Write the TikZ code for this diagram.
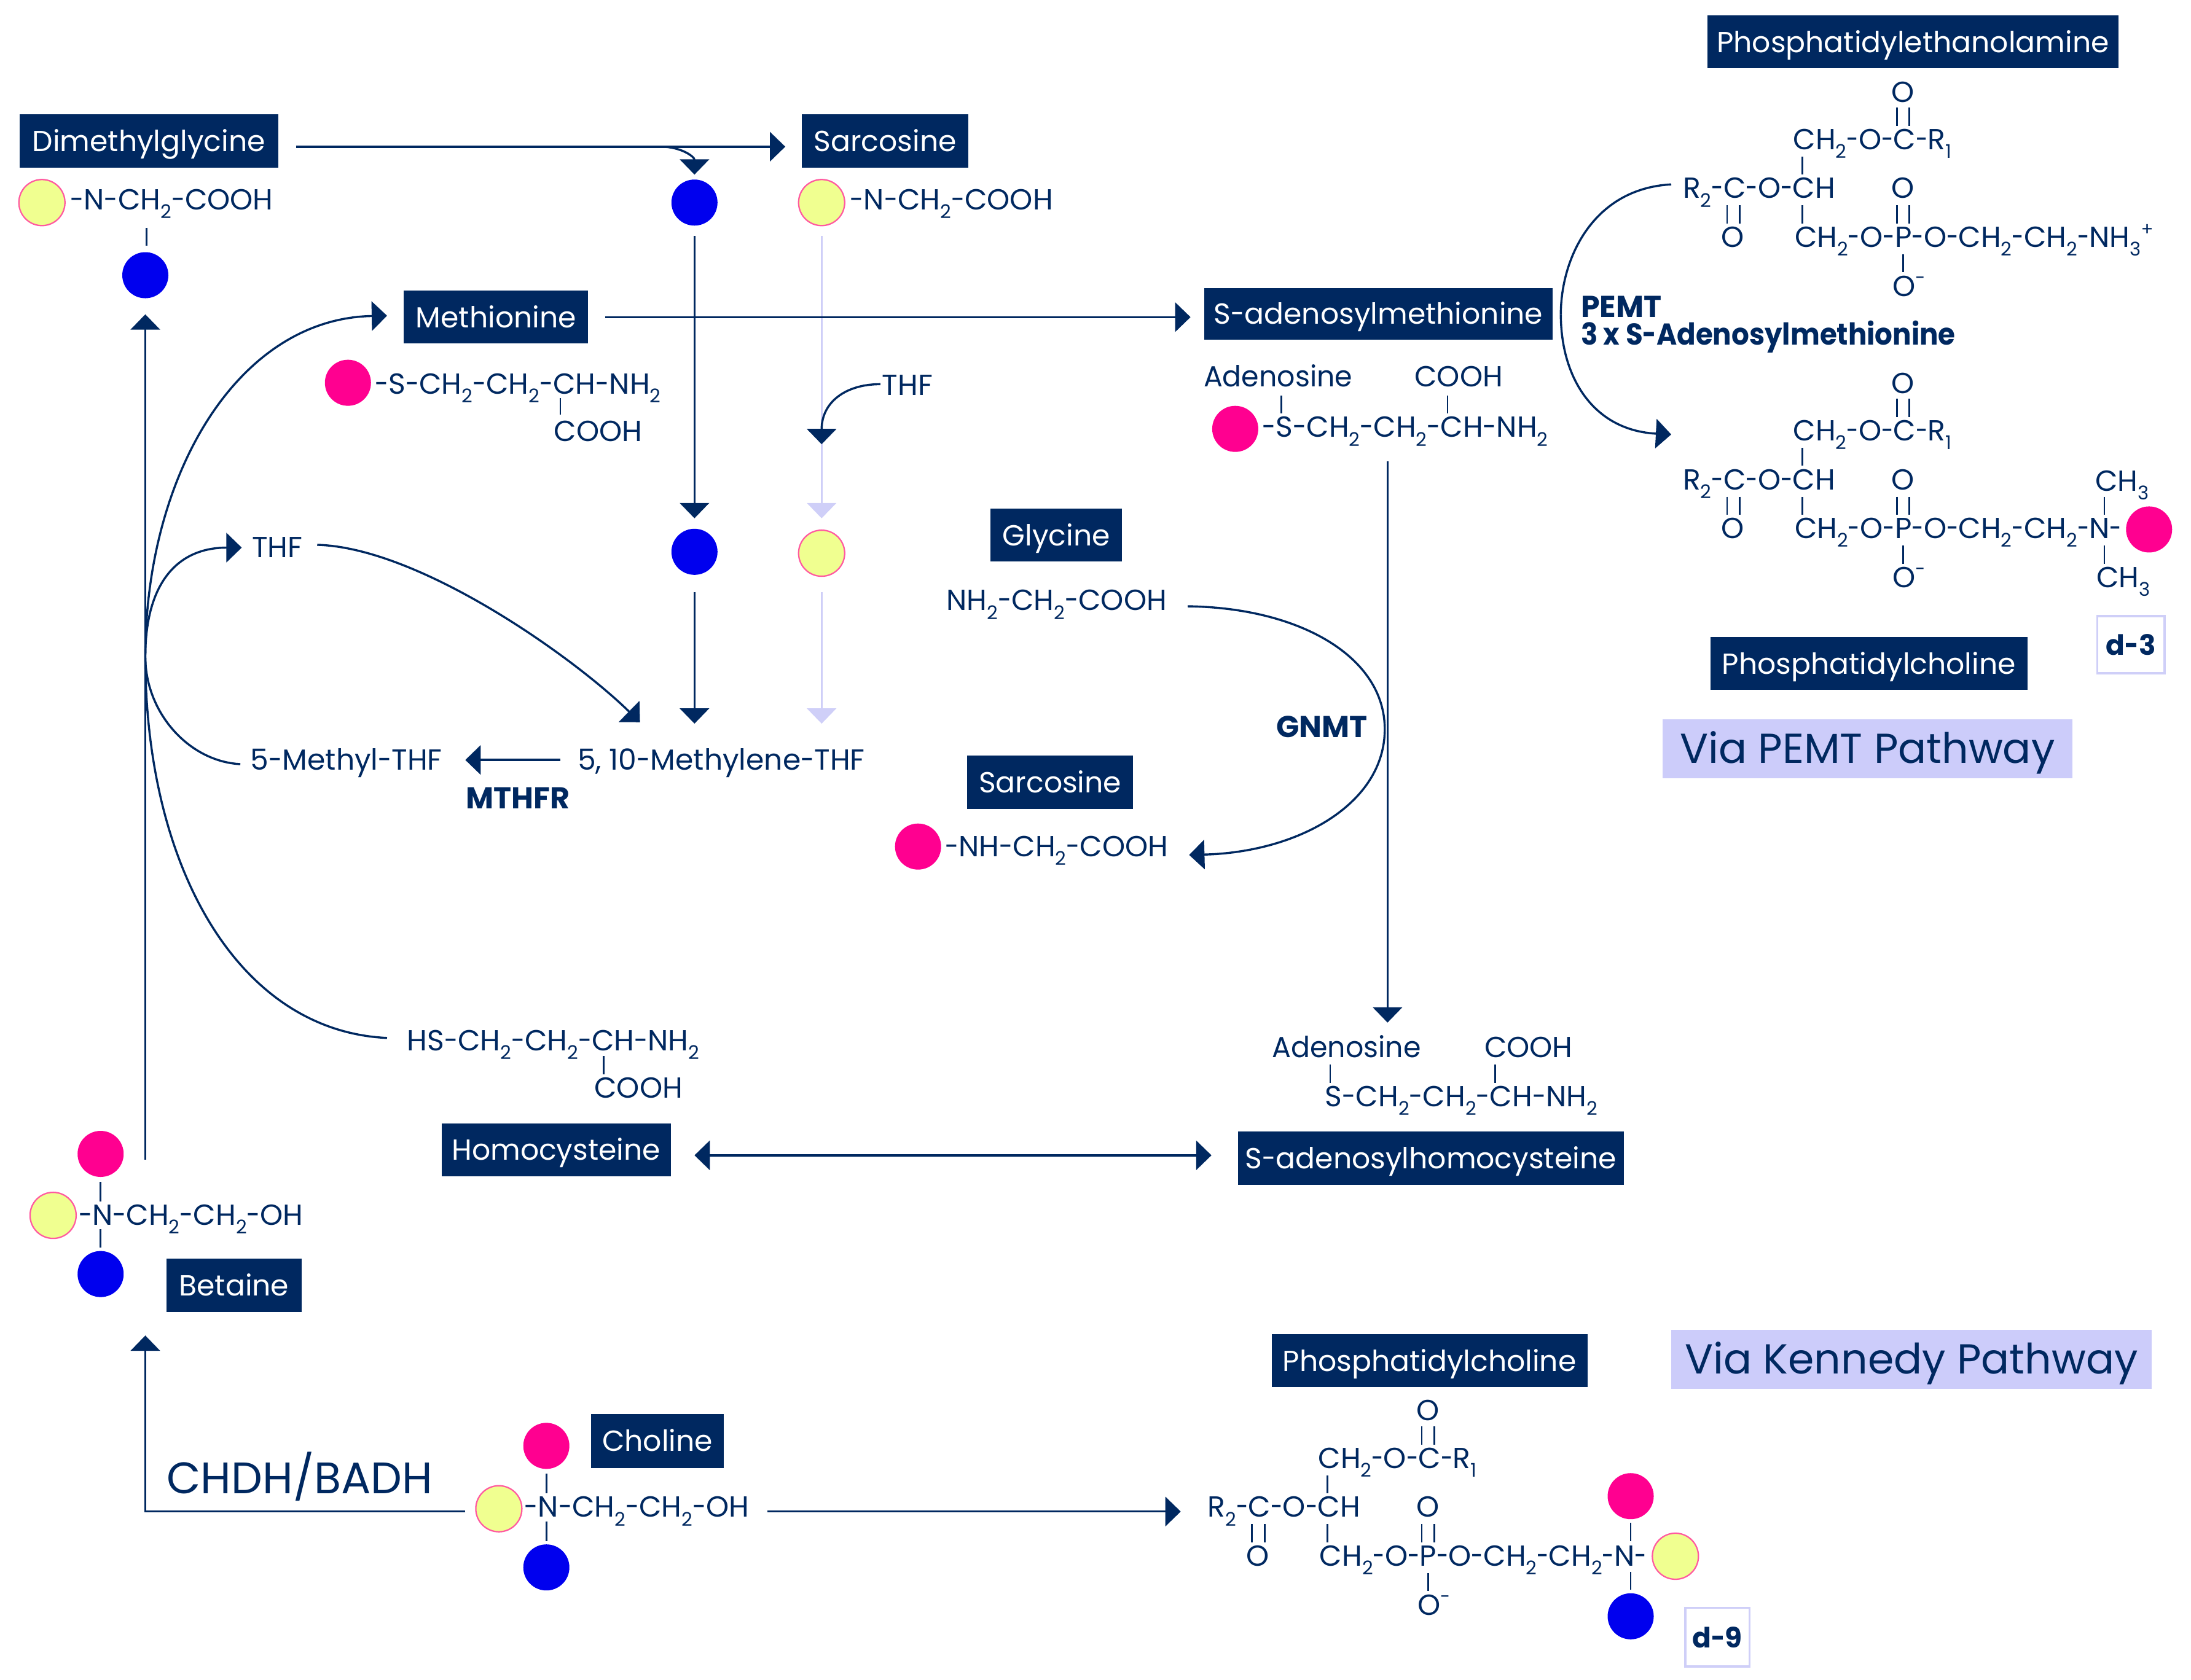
\documentclass[tikz,border=0pt]{standalone}
\usepackage{fontspec}
\setmainfont{Poppins}
\usetikzlibrary{arrows.meta}
\definecolor{navy}{HTML}{002860}
\definecolor{lilac}{HTML}{CCCCFA}
\definecolor{lilacline}{HTML}{CFCFF8}
\definecolor{dotyellow}{HTML}{F0FF90}
\definecolor{dotring}{HTML}{FF5AA0}
\definecolor{dotblue}{HTML}{0000EE}
\definecolor{dotpink}{HTML}{FF0090}
\tikzset{
  arr/.style={draw=navy,line width=0.75pt,-{Triangle[length=5.5pt,width=10.5pt,fill=navy]}},
  arrboth/.style={draw=navy,line width=0.75pt,{Triangle[length=5.5pt,width=10.5pt,fill=navy]}-{Triangle[length=5.5pt,width=10.5pt,fill=navy]}},
  arrlilac/.style={draw=lilacline,line width=0.75pt,-{Triangle[length=5.5pt,width=10.5pt,fill=lilacline]}},
  plainline/.style={draw=navy,line width=0.75pt},
  bondline/.style={draw=navy,line width=0.6pt},
  chemtext/.style={inner sep=0pt,text=navy,font=\fontsize{10.4}{12}\selectfont},
  boldtext/.style={inner sep=0pt,text=navy,font=\fontsize{10.8}{12}\selectfont\bfseries},
  ydot/.style={circle,draw=dotring,line width=0.5pt,fill=dotyellow,minimum size=16.5pt,inner sep=0pt},
  bdot/.style={circle,fill=dotblue,minimum size=16.5pt,inner sep=0pt},
  pdot/.style={circle,fill=dotpink,minimum size=16.5pt,inner sep=0pt},
}
\def\hyscale{0.85}
\newcommand\hy{\scalebox{\hyscale}[1]{-}}
\newcommand\sbs[1]{\raisebox{-0.55ex}{\scalebox{0.65}{#1}}}
\newcommand\sps[1]{\raisebox{0.75ex}{\scalebox{0.62}{#1}}}
\newcount\bondn
\newcommand\bond[3]{\global\advance\bondn by 1
  \coordinate (b\the\bondn s) at (#1,#2);
  \coordinate (b\the\bondn e) at (#1,#3);
  \draw[bondline] (b\the\bondn s) -- (b\the\bondn e);}
\newcommand\chem[4]{\node[chemtext,anchor=base west] (#1) at (#2,#3) {#4};}
\newcommand\atom[4]{\node[chemtext,anchor=base] (#1) at (#2,#3) {#4};}
\newcommand\labelbox[7]{% name,x1,y1,x2,y2,style colors,text
  \pgfmathsetmacro\bw{(#4-#2)*0.5003}\pgfmathsetmacro\bh{(#5-#3)*0.5003}
  \node[#6,minimum width=\bw pt,minimum height=\bh pt,inner sep=0pt] (#1) at ({(#2+#4)/2},{(#3+#5)/2}) {#7};}
\tikzset{
  navybox/.style={fill=navy,text=white,font=\fontsize{10.4}{12}\selectfont,text height=9pt,text depth=1.5pt},
  viabox/.style={fill=lilac,text=navy,font=\fontsize{15}{18}\selectfont,text height=13pt,text depth=2.5pt},
  tagbox/.style={draw=lilacline,line width=0.8pt,fill=white,text=navy,font=\fontsize{10}{12}\selectfont\bfseries},
}
% glycerol backbone shared by the three lipids; drawn in PE coordinates
\newcommand\lipidcore[1]{
  \atom{#1oa}{1362}{73}{O}
  \bond{1357.5}{77}{90}\bond{1366.5}{77}{90}
  \chem{#1cha}{1283}{107}{CH\sbs{2}\hy O\hy C\hy R\sbs{1}}
  \bond{1290}{112}{125}
  \chem{#1rt}{1204}{142}{R\sbs{2}\hy C\hy O\hy CH}
  \atom{#1ob}{1362}{142}{O}
  \bond{1236}{147}{160}\bond{1245}{147}{160}
  \bond{1290}{147}{160}
  \bond{1357.5}{147}{160}\bond{1366.5}{147}{160}
  \atom{#1oc}{1240}{177}{O}
  \bond{1362}{182}{195}
  \chem{#1om}{1354}{212}{O\sps{-}}
}
\begin{document}
\begin{tikzpicture}[x=0.5003pt,y=-0.5003pt]
\useasboundingbox (0,0) rectangle (1568,1202.6);
% label boxes
\labelbox{dmg}{14}{82}{199}{120}{navybox}{Dimethylglycine}
\labelbox{sart}{574}{82}{693}{120}{navybox}{Sarcosine}
\labelbox{met}{289}{208}{421}{246}{navybox}{Methionine}
\labelbox{sam}{862}{206}{1111}{243}{navybox}{S\hy adenosylmethionine}
\labelbox{pe}{1222}{11}{1516}{49}{navybox}{Phosphatidylethanolamine}
\labelbox{gly}{709}{364}{803}{402}{navybox}{Glycine}
\labelbox{sarm}{692}{541}{811}{579}{navybox}{Sarcosine}
\labelbox{pct}{1224}{456}{1451}{494}{navybox}{Phosphatidylcholine}
\labelbox{hcy}{316}{804}{480}{842}{navybox}{Homocysteine}
\labelbox{sah}{886}{810}{1162}{848}{navybox}{S\hy adenosylhomocysteine}
\labelbox{bet}{119}{901}{216}{939}{navybox}{Betaine}
\labelbox{pcb}{910}{955}{1136}{993}{navybox}{Phosphatidylcholine}
\labelbox{cho}{423}{1012}{518}{1051}{navybox}{Choline}
\labelbox{viap}{1190}{515}{1483}{557}{viabox}{Via PEMT Pathway}
\labelbox{viak}{1196}{952}{1540}{994}{viabox}{Via Kennedy Pathway}
\labelbox{dt}{1501}{441}{1549}{482}{tagbox}{d\hy 3}
\labelbox{dn}{1206}{1151}{1252}{1193}{tagbox}{d\hy 9}
% dots
\node[ydot] (y1) at (30,145) {};
\node[ydot] (y2) at (588,145) {};
\node[ydot] (y3) at (588,396) {};
\node[ydot] (y4) at (38,870) {};
\node[ydot] (y5) at (357,1080) {};
\node[ydot] (y6) at (1199,1114) {};
\node[bdot] (bl1) at (104,197) {};
\node[bdot] (bl2) at (497,145) {};
\node[bdot] (bl3) at (497,395) {};
\node[bdot] (bl4) at (72,912) {};
\node[bdot] (bl5) at (391,1122) {};
\node[bdot] (bl6) at (1167,1157) {};
\node[pdot] (p1) at (249,274) {};
\node[pdot] (p2) at (884,307) {};
\node[pdot] (p3) at (1538,379) {};
\node[pdot] (p4) at (72,826) {};
\node[pdot] (p5) at (391,1035) {};
\node[pdot] (p6) at (1167,1071) {};
\node[pdot] (p7) at (657,606) {};
% small molecules
\chem{t1}{50}{150}{\hy N\hy CH\sbs{2}\hy COOH}
\bond{105}{163}{176}
\chem{t2}{608}{150}{\hy N\hy CH\sbs{2}\hy COOH}
\chem{t3}{268}{282}{\hy S\hy CH\sbs{2}\hy CH\sbs{2}\hy CH\hy NH\sbs{2}}
\bond{401}{285}{297}
\chem{t4}{396}{316}{COOH}
\chem{t5}{861}{277}{\scalebox{0.97}[1]{Adenosine}}
\chem{t6}{1012}{277}{COOH}
\bond{917}{283}{296}\bond{1036}{283}{296}
\chem{t7}{903}{313}{\hy S\hy CH\sbs{2}\hy CH\sbs{2}\hy CH\hy NH\sbs{2}}
\chem{thfa}{631}{283}{THF}
\chem{thfb}{180}{399}{THF}
\chem{mthf}{179}{551}{5\hy Methyl\hy THF}
\chem{mlthf}{413}{551}{5, 10\hy Methylene\hy THF}
\node[boldtext,anchor=base west] (mthfr) at (333,579) {MTHFR};
\chem{t8}{677}{437}{NH\sbs{2}\hy CH\sbs{2}\hy COOH}
\chem{t9}{676}{613}{\hy NH\hy CH\sbs{2}\hy COOH}
\node[boldtext,anchor=base west] (gnmt) at (913,528) {GNMT};
\chem{t10}{291}{752}{HS\hy CH\sbs{2}\hy CH\sbs{2}\hy CH\hy NH\sbs{2}}
\bond{432}{756}{769}
\chem{t11}{425}{786}{COOH}
\chem{t12}{910}{757}{\scalebox{0.97}[1]{Adenosine}}
\chem{t13}{1062}{757}{COOH}
\bond{952}{762}{775}\bond{1070}{762}{775}
\chem{t14}{948}{792}{S\hy CH\sbs{2}\hy CH\sbs{2}\hy CH\hy NH\sbs{2}}
\chem{t15}{56}{877}{\hy N\hy CH\sbs{2}\hy CH\sbs{2}\hy OH}
\bond{72}{846}{860}\bond{72}{880}{893}
\chem{t16}{375}{1086}{\hy N\hy CH\sbs{2}\hy CH\sbs{2}\hy OH}
\bond{391}{1055}{1069}\bond{391}{1089}{1103}
\node[chemtext,anchor=base west,font=\fontsize{15.8}{17}\selectfont] (chdh) at (119,1069) {CHDH/BADH};
\node[boldtext,anchor=base west] (pemt) at (1131,227) {PEMT};
\node[boldtext,anchor=base west] (pemtb) at (1131,247) {\scalebox{0.92}[1]{3 x S\hy Adenosylmethionine}};
% lipids
\def\hyscale{0.75}
\begin{scope}
\lipidcore{a}
\chem{ae}{1284}{177}{CH\sbs{2}\hy O\hy P\hy O\hy CH\sbs{2}\hy CH\sbs{2}\hy NH\sbs{3}\sps{+}}
\end{scope}
\begin{scope}[shift={(0,208.5)}]
\lipidcore{b}
\chem{be}{1284}{177}{CH\sbs{2}\hy O\hy P\hy O\hy CH\sbs{2}\hy CH\sbs{2}\hy N\hy }
\chem{bm}{1499}{143}{CH\sbs{3}}
\bond{1506}{147}{160}\bond{1506}{182}{195}
\chem{bn}{1500}{212}{CH\sbs{3}}
\end{scope}
\begin{scope}[shift={(-340,944)}]
\lipidcore{c}
\chem{ce}{1284}{177}{CH\sbs{2}\hy O\hy P\hy O\hy CH\sbs{2}\hy CH\sbs{2}\hy N\hy }
\bond{1507}{146}{159}\bond{1507}{181}{194}
\end{scope}
% connector end points
\coordinate (a1) at (212,105); \coordinate (a2) at (562,105);
\coordinate (a3) at (473,105); \coordinate (a4) at (497,125);
\coordinate (a5) at (497,169); \coordinate (a6) at (497,371);
\coordinate (a7) at (497,424); \coordinate (a8) at (497,518);
\coordinate (l1) at (588,169); \coordinate (l2) at (588,371);
\coordinate (l3) at (588,424); \coordinate (l4) at (588,518);
\coordinate (th1) at (630,275); \coordinate (th2) at (588,318);
\coordinate (up1) at (104,830); \coordinate (up2) at (104,225);
\coordinate (hub) at (104,470);
\coordinate (mt) at (277,226); \coordinate (tb) at (173,392);
\coordinate (mf) at (172,547); \coordinate (hs) at (277,743);
\coordinate (tf) at (227,390); \coordinate (tg) at (458,517);
\coordinate (me1) at (401,544); \coordinate (me2) at (333,544);
\coordinate (ms1) at (433,227); \coordinate (ms2) at (852,227);
\coordinate (dn1) at (993,330); \coordinate (dn2) at (993,732);
\coordinate (pm1) at (1196,132); \coordinate (pm) at (1117,225); \coordinate (pm2) at (1196,311);
\coordinate (gn1) at (850,434); \coordinate (gn) at (991,522); \coordinate (gn2) at (851,612);
\coordinate (hc1) at (497,827); \coordinate (hc2) at (867,827);
\coordinate (ck1) at (549,1082); \coordinate (ck2) at (845,1082);
\coordinate (cb1) at (333,1082); \coordinate (cb) at (104,1082); \coordinate (cb2) at (104,956);
% connectors
\draw[arr] (a1) -- (a2);
\draw[arr] (a3) .. controls (487,105) and (497,112) .. (a4);
\draw[arr] (a5) -- (a6);
\draw[arr] (a7) -- (a8);
\draw[arrlilac] (l1) -- (l2);
\draw[arrlilac] (l3) -- (l4);
\draw[arr] (th1) .. controls (605,275) and (588,288) .. (th2);
\draw[arr] (up1) -- (up2);
\draw[arr] (hub) .. controls (104,340) and (170,228) .. (mt);
\draw[arr] (hub) .. controls (104,420) and (125,392) .. (tb);
\draw[plainline] (mf) .. controls (135,545) and (104,510) .. (hub);
\draw[plainline] (hs) .. controls (170,738) and (104,620) .. (hub);
\draw[arr] (tf) .. controls (300,392) and (410,470) .. (tg);
\draw[arr] (me1) -- (me2);
\draw[arr] (ms1) -- (ms2);
\draw[arr] (dn1) -- (dn2);
\draw[plainline] (pm1) .. controls (1140,135) and (1117,185) .. (pm);
\draw[arr] (pm) .. controls (1117,270) and (1140,308) .. (pm2);
\draw[plainline] (gn1) .. controls (930,435) and (991,470) .. (gn);
\draw[arr] (gn) .. controls (991,575) and (930,610) .. (gn2);
\draw[arrboth] (hc1) -- (hc2);
\draw[arr] (ck1) -- (ck2);
\draw[arr] (cb1) -- (cb) -- (cb2);
\end{tikzpicture}
\end{document}
